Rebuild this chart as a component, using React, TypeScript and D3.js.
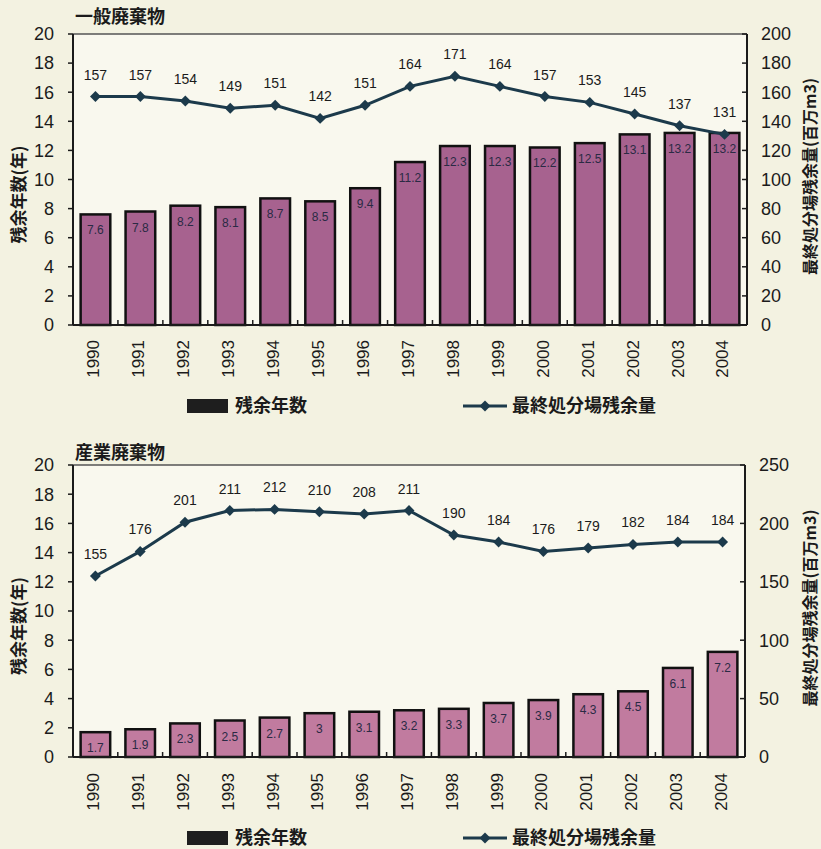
import React from 'react';
import * as d3 from 'd3';

// 年度
const years = ['1990','1991','1992','1993','1994','1995','1996','1997','1998','1999','2000','2001','2002','2003','2004'];

// 一般廃棄物
const ippanYears = [7.6, 7.8, 8.2, 8.1, 8.7, 8.5, 9.4, 11.2, 12.3, 12.3, 12.2, 12.5, 13.1, 13.2, 13.2];
const ippanVolume = [157, 157, 154, 149, 151, 142, 151, 164, 171, 164, 157, 153, 145, 137, 131];

// 産業廃棄物
const sangyoYears = [1.7, 1.9, 2.3, 2.5, 2.7, 3, 3.1, 3.2, 3.3, 3.7, 3.9, 4.3, 4.5, 6.1, 7.2];
const sangyoVolume = [155, 176, 201, 211, 212, 210, 208, 211, 190, 184, 176, 179, 182, 184, 184];

const leftTicks = [0, 2, 4, 6, 8, 10, 12, 14, 16, 18, 20];
const ippanRightTicks = [0, 20, 40, 60, 80, 100, 120, 140, 160, 180, 200];
const sangyoRightTicks = [0, 50, 100, 150, 200, 250];

const FONT = '"Liberation Sans", Arial, sans-serif';
const CJK = '"Noto Sans CJK JP", "Liberation Sans", sans-serif';
const LINE = '#1c3a4b';
const INK = '#1b1b1b';

type PanelProps = {
  title: string;
  top: number;
  bottom: number;
  left: number;
  right: number;
  titleY: number;
  yearY: number;
  legendY: number;
  bars: number[];
  line: number[];
  rightTicks: number[];
  barFill: string;
};

const Panel = ({title, top, bottom, left, right, titleY, yearY, legendY, bars, line, rightTicks, barFill}: PanelProps) => {
  const x = d3.scaleBand().domain(years).range([left, right]).paddingInner(0.34).paddingOuter(0.17);
  const yL = d3.scaleLinear().domain([0, 20]).range([bottom, top]);
  const yR = d3.scaleLinear().domain([0, d3.max(rightTicks) as number]).range([bottom, top]);
  const lineGen = d3.line<number>()
    .x((_, i) => (x(years[i]) as number) + x.bandwidth() / 2)
    .y(d => yR(d));
  const diamond = d3.symbol(d3.symbolSquare, 60)();
  const midY = (top + bottom) / 2;

  return (
    <g>
      <text x={left + 2} y={titleY} fontFamily={CJK} fontWeight="bold" fontSize={18} fill={INK}>{title}</text>
      <rect x={left} y={top} width={right - left} height={bottom - top} fill="#f9f8ee" />
      <line x1={left} x2={right} y1={top} y2={top} stroke="#555" strokeWidth={1.5} />

      {/* bars */}
      {bars.map((v, i) => (
        <g key={'b' + i}>
          <rect x={x(years[i])} y={yL(v)} width={x.bandwidth()} height={bottom - yL(v)}
            fill={barFill} stroke="#111" strokeWidth={2.5} />
          <text x={(x(years[i]) as number) + x.bandwidth() / 2} y={yL(v) + 20} textAnchor="middle"
            fontFamily={FONT} fontSize={12} fill="#2a2a44">{v}</text>
        </g>
      ))}

      {/* axes */}
      <line x1={left} x2={left} y1={top} y2={bottom} stroke={INK} strokeWidth={2} />
      <line x1={right} x2={right} y1={top} y2={bottom} stroke={INK} strokeWidth={2} />
      <line x1={left} x2={right} y1={bottom} y2={bottom} stroke={INK} strokeWidth={2} />
      {leftTicks.map(t => (
        <g key={'l' + t}>
          <line x1={left - 5} x2={left} y1={yL(t)} y2={yL(t)} stroke={INK} strokeWidth={1.5} />
          <text x={54} y={yL(t)} dy="0.35em" textAnchor="end" fontFamily={FONT} fontSize={18} fill={INK}>{t}</text>
        </g>
      ))}
      {rightTicks.map(t => (
        <g key={'r' + t}>
          <line x1={right - 5} x2={right} y1={yR(t)} y2={yR(t)} stroke={INK} strokeWidth={1.5} />
          <text x={right + 14} y={yR(t)} dy="0.35em" textAnchor="start" fontFamily={FONT} fontSize={18} fill={INK}>{t}</text>
        </g>
      ))}
      {years.slice(1).map(yr => (
        <line key={'t' + yr} x1={(x(yr) as number) - x.step() * 0.17} x2={(x(yr) as number) - x.step() * 0.17}
          y1={bottom} y2={bottom - 5} stroke={INK} strokeWidth={1.5} />
      ))}
      {years.map(yr => (
        <text key={'y' + yr} transform={`translate(${(x(yr) as number) + x.bandwidth() / 2 - 2},${yearY}) rotate(-90)`}
          dy="0.35em" textAnchor="end" fontFamily={FONT} fontSize={17} fill={INK}>{yr}</text>
      ))}

      {/* axis titles */}
      <text transform={`translate(19,${midY + 15}) rotate(-90)`} dy="0.35em" textAnchor="middle"
        fontFamily={CJK} fontWeight="bold" fontSize={17} fill={INK}>残余年数(年)</text>
      <text transform={`translate(810,${midY - 3}) rotate(-90)`} dy="0.35em" textAnchor="middle"
        fontFamily={CJK} fontWeight="bold" fontSize={16} fill={INK}>最終処分場残余量(百万m3)</text>

      {/* line */}
      <path d={lineGen(line) as string} fill="none" stroke={LINE} strokeWidth={3} />
      {line.map((v, i) => {
        const cx = (x(years[i]) as number) + x.bandwidth() / 2;
        return (
          <g key={'p' + i}>
            <path d={diamond as string} transform={`translate(${cx},${yR(v)}) rotate(45)`} fill={LINE} />
            <text x={cx} y={yR(v) - 17} textAnchor="middle" fontFamily={FONT} fontSize={14} fill={INK}>{v}</text>
          </g>
        );
      })}

      {/* legend */}
      <rect x={187} y={legendY - 7} width={41} height={14} fill="#1e1e1e" />
      <text x={235} y={legendY} dy="0.35em" fontFamily={CJK} fontWeight="bold" fontSize={18} fill={INK}>残余年数</text>
      <line x1={463} x2={507} y1={legendY} y2={legendY} stroke={LINE} strokeWidth={3} />
      <path d={diamond as string} transform={`translate(485,${legendY}) rotate(45)`} fill={LINE} />
      <text x={512} y={legendY} dy="0.35em" fontFamily={CJK} fontWeight="bold" fontSize={18} fill={INK}>最終処分場残余量</text>
    </g>
  );
};

export default function App() {
  return (
    <svg width={821} height={849} style={{position: 'absolute', left: 0, top: 0, display: 'block'}}>
      <rect x={0} y={0} width={821} height={849} fill="#f3f2e1" />
      <Panel title="一般廃棄物" top={34} bottom={325} left={73} right={747} titleY={23}
        yearY={340} legendY={406} bars={ippanYears} line={ippanVolume} rightTicks={ippanRightTicks} barFill="#a7628f" />
      <Panel title="産業廃棄物" top={465} bottom={757} left={73} right={745} titleY={459}
        yearY={773} legendY={838} bars={sangyoYears} line={sangyoVolume} rightTicks={sangyoRightTicks} barFill="#c17b9f" />
    </svg>
  );
}
